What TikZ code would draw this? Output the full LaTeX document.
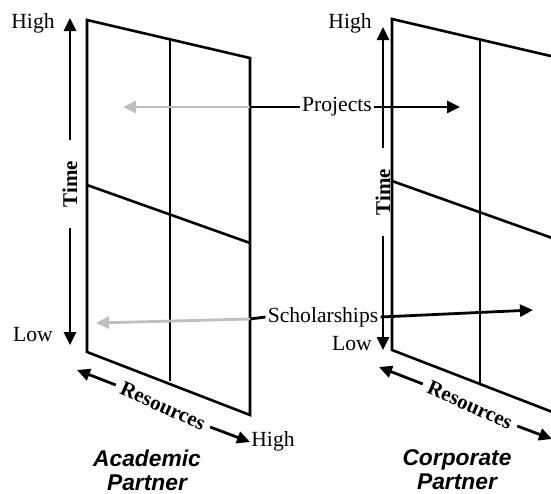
\documentclass[tikz,border=0pt]{standalone}
\usepackage{fontspec}
\setmainfont{Liberation Serif}
\newfontfamily\partnerfont{Liberation Sans}
\usetikzlibrary{positioning,arrows.meta}

\begin{document}
\begin{tikzpicture}[
  x=0.5pt, y=-0.5pt,
  frame/.style={line width=1.3pt},
  plain/.style={line width=1.4pt},
  axis/.style={line width=1.4pt,-{Triangle[length=6.5pt,width=6pt]}},
  faded/.style={line width=1.4pt,draw=black!25,-{Triangle[length=6.5pt,width=6pt]}},
  lbl/.style={font=\fontsize{10.8}{13}\selectfont,inner sep=1pt},
  axislbl/.style={font=\fontsize{10.5}{13}\selectfont\bfseries,inner sep=1pt},
  partner/.style={font=\partnerfont\fontsize{11.4}{12}\selectfont\bfseries\itshape,align=center}
]
\useasboundingbox (0,0) rectangle (551,493);
\clip (0,0) rectangle (551,493);

% academic grid
\coordinate (a-tl) at (87,20);
\coordinate (a-tr) at (250,58);
\coordinate (a-ml) at (87,185);
\coordinate (a-mr) at (250,243);
\coordinate (a-bl) at (87,352);
\coordinate (a-br) at (250,415);
\coordinate (a-tm) at (170,39);
\coordinate (a-bm) at (170,381);
\draw[frame] (a-tl) -- (a-tr) -- (a-br) -- (a-bl) -- cycle;
\draw[frame] (a-ml) -- (a-mr);
\draw[frame] (a-tm) -- (a-bm);

% corporate grid
\coordinate (c-tl) at (392,19);
\coordinate (c-tr) at (555,57);
\coordinate (c-ml) at (392,181);
\coordinate (c-mr) at (555,239);
\coordinate (c-bl) at (392,350);
\coordinate (c-br) at (555,413);
\coordinate (c-tm) at (480,40);
\coordinate (c-bm) at (480,384);
\draw[frame] (c-tl) -- (c-tr) -- (c-br) -- (c-bl) -- cycle;
\draw[frame] (c-ml) -- (c-mr);
\draw[frame] (c-tm) -- (c-bm);

% time axes
\node[axislbl, rotate=90, inner xsep=10pt] (a-time) at (70,184) {Time};
\coordinate (a-top) at (70,18);
\coordinate (a-bot) at (70,345);
\draw[axis] (a-time.east) -- (a-top);
\draw[axis] (a-time.west) -- (a-bot);
\node[lbl] (a-high) at (33,23) {High};
\node[lbl] (a-low) at (33,335) {Low};

\node[axislbl, rotate=90, inner xsep=10pt] (c-time) at (383,192) {Time};
\coordinate (c-top) at (383,27);
\coordinate (c-bot) at (383,350);
\draw[axis] (c-time.east) -- (c-top);
\draw[axis] (c-time.west) -- (c-bot);
\node[lbl] (c-high) at (350,23) {High};
\node[lbl] (c-low) at (352,344) {Low};

% resources axes
\node[axislbl, rotate=-24, inner xsep=3pt] (a-res) at (163,406) {Resources};
\coordinate (a-rl) at (77,370);
\coordinate (a-rr) at (250,442);
\draw[axis] (a-res.west) -- (a-rl);
\draw[axis] (a-res.east) -- (a-rr);
\node[lbl] (a-rhigh) at (273,441) {High};

\node[axislbl, rotate=-24, inner xsep=3pt] (c-res) at (470,405) {Resources};
\coordinate (c-rl) at (379,367);
\coordinate (c-rr) at (552,439);
\draw[axis] (c-res.west) -- (c-rl);
\draw[axis] (c-res.east) -- (c-rr);

% projects
\node[lbl] (proj) at (337,107) {Projects};
\coordinate (a-pj) at (250,107);
\coordinate (a-pj-tip) at (123,107);
\coordinate (c-pj-tip) at (460,107);
\draw[plain] (proj.west) -- (a-pj);
\draw[faded] (a-pj) -- (a-pj-tip);
\draw[axis] (proj.east) -- (c-pj-tip);

% scholarships
\node[lbl] (schol) at (323,317) {Scholarships};
\coordinate (a-sc) at (250,319);
\coordinate (a-sc-tip) at (96,323);
\coordinate (c-sc-tip) at (533,310);
\draw[plain] (schol.west) -- (a-sc);
\draw[faded] (a-sc) -- (a-sc-tip);
\draw[axis] (schol.east) -- (c-sc-tip);

% partners
\node[partner] (acad) at (147,470) {Academic\\Partner};
\node[partner] (corp) at (457,470) {Corporate\\Partner};
\end{tikzpicture}
\end{document}
